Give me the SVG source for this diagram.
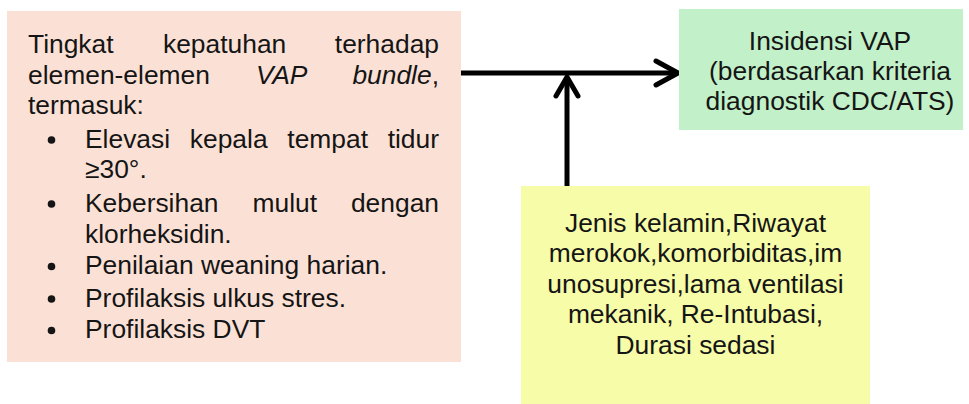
<svg xmlns="http://www.w3.org/2000/svg" width="969" height="404" viewBox="0 0 969 404">
<style>
text{font-family:"Liberation Sans",Arial,sans-serif;font-size:26.4px;fill:#151515}
.c{text-anchor:middle}
.e{text-anchor:end}
.i{font-style:italic}
.ln{stroke:#000;stroke-width:5;fill:none;stroke-linecap:round;stroke-linejoin:round}
</style>
<rect width="969" height="404" fill="#fff"/>
<g id="connectors">
<line class="ln" x1="461" y1="73" x2="675" y2="73" style="stroke-linecap:butt"/>
<path class="ln" d="M656,61 L678,73 L656,85"/>
<line class="ln" x1="567" y1="186" x2="567" y2="79" style="stroke-linecap:butt"/>
<path class="ln" d="M556,96 L567,77 L578,96"/>
</g>
<g id="node-compliance">
<rect x="7" y="11" width="454" height="351" fill="#FBE1D5"/>
<text x="28" y="53">Tingkat</text>
<text x="163" y="53">kepatuhan</text>
<text x="439" y="53" class="e">terhadap</text>
<text x="28" y="83.5">elemen-elemen</text>
<text x="256" y="83.5" class="i">VAP</text>
<text x="439" y="83.5" class="e"><tspan class="i">bundle</tspan>,</text>
<text x="28" y="114">termasuk:</text>
<circle cx="51.5" cy="140" r="3.8" fill="#151515"/>
<text x="85" y="147.5">Elevasi</text>
<text x="189.8" y="147.5">kepala</text>
<text x="287.3" y="147.5">tempat</text>
<text x="439" y="147.5" class="e">tidur</text>
<text x="85" y="178">≥30°.</text>
<circle cx="51.5" cy="204" r="3.8" fill="#151515"/>
<text x="85" y="211.5">Kebersihan</text>
<text x="252.5" y="211.5">mulut</text>
<text x="439" y="211.5" class="e">dengan</text>
<text x="85" y="242.5">klorheksidin.</text>
<circle cx="51.5" cy="266.5" r="3.8" fill="#151515"/>
<text x="85" y="274">Penilaian weaning harian.</text>
<circle cx="51.5" cy="299" r="3.8" fill="#151515"/>
<text x="85" y="306.5">Profilaksis ulkus stres.</text>
<circle cx="51.5" cy="330.5" r="3.8" fill="#151515"/>
<text x="85" y="338">Profilaksis DVT</text>
</g>
<g id="node-outcome">
<rect x="679" y="9" width="284" height="121" fill="#C2F0C9"/>
<text x="830" y="50" class="c">Insidensi VAP</text>
<text x="830" y="80" class="c">(berdasarkan kriteria</text>
<text x="830" y="110" class="c">diagnostik CDC/ATS)</text>
</g>
<g id="node-confounders">
<rect x="521" y="186" width="349" height="218" fill="#F7FCA9"/>
<text x="695.5" y="231.5" class="c">Jenis kelamin,Riwayat</text>
<text x="695.5" y="262" class="c">merokok,komorbiditas,im</text>
<text x="695.5" y="292.5" class="c">unosupresi,lama ventilasi</text>
<text x="695.5" y="323" class="c">mekanik, Re-Intubasi,</text>
<text x="695.5" y="353.5" class="c">Durasi sedasi</text>
</g>
</svg>
